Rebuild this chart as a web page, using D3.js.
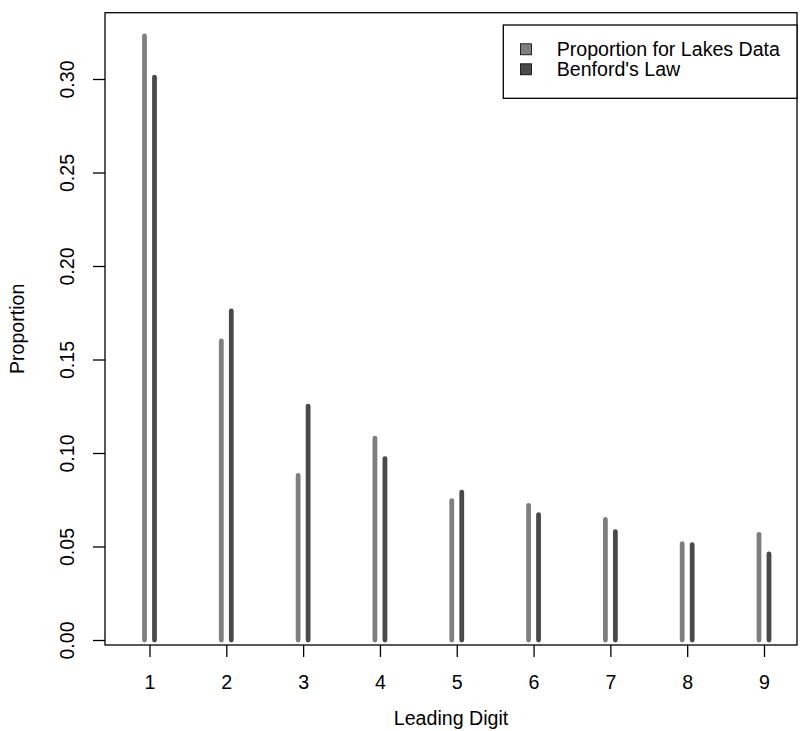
<!DOCTYPE html>
<html>
<head>
<meta charset="utf-8">
<script src="https://cdn.jsdelivr.net/npm/d3@7"></script>
<style>
  body { margin: 0; background: #fff; }
  text { font-family: "Liberation Sans", Arial, Helvetica, sans-serif; fill: #000; }
</style>
</head>
<body>
<div id="chart"></div>
<script>
// leading digits and proportions
const digits = [1, 2, 3, 4, 5, 6, 7, 8, 9];
const lakes = [0.323, 0.160, 0.088, 0.108, 0.0745, 0.072, 0.0645, 0.0515, 0.0565];
const benford = [0.301, 0.176, 0.125, 0.097, 0.079, 0.067, 0.058, 0.051, 0.046];
const yTicks = [0, 0.05, 0.10, 0.15, 0.20, 0.25, 0.30];
const seriesNames = ['Proportion for Lakes Data', "Benford's Law"];
const seriesColors = ['#7f7f7f', '#4a4a4a'];

const W = 800, H = 731;
const box = { left: 105, top: 12.7, right: 797, bottom: 645 };
const fs = 19.6;

const svg = d3.select('#chart').append('svg')
    .attr('width', W)
    .attr('height', H);

const x = d3.scaleLinear().domain([1, 9]).range([149.5, 764]);
const y = d3.scaleLinear().domain([0, 0.30]).range([640, 79]);
const off = 0.065; // side-by-side shift of the two series

// spikes (type = "h")
const series = [lakes, benford];
series.forEach((vals, s) => {
    svg.append('g').selectAll('line')
        .data(digits)
        .enter().append('line')
        .attr('x1', (d) => x(d + (s === 0 ? -off : off)))
        .attr('x2', (d) => x(d + (s === 0 ? -off : off)))
        .attr('y1', y(0))
        .attr('y2', (d, i) => y(vals[i]))
        .attr('stroke', seriesColors[s])
        .attr('stroke-width', 4.8)
        .attr('stroke-linecap', 'round');
});

// plot box
svg.append('rect')
    .attr('x', box.left)
    .attr('y', box.top)
    .attr('width', box.right - box.left)
    .attr('height', box.bottom - box.top)
    .attr('fill', 'none')
    .attr('stroke', '#000')
    .attr('stroke-width', 1.3);

// x axis
const gx = svg.append('g')
    .attr('transform', `translate(0,${box.bottom})`)
    .call(d3.axisBottom(x).tickValues(digits).tickSize(12).tickPadding(18).tickFormat(d3.format('d')));
gx.select('.domain').remove();
gx.selectAll('line').attr('stroke', '#000').attr('stroke-width', 1.3);
gx.selectAll('text').style('font-size', fs + 'px').attr('font-family', null);

// y axis, labels turned parallel to the axis
const gy = svg.append('g')
    .attr('transform', `translate(${box.left},0)`)
    .call(d3.axisLeft(y).tickValues(yTicks).tickSize(12).tickFormat(d3.format('.2f')));
gy.select('.domain').remove();
gy.selectAll('line').attr('stroke', '#000').attr('stroke-width', 1.3);
gy.selectAll('text')
    .attr('x', null)
    .attr('dy', null)
    .attr('text-anchor', 'middle')
    .attr('transform', 'translate(-31,0) rotate(-90)')
    .style('font-size', fs + 'px');

// axis titles
svg.append('text')
    .attr('x', (box.left + box.right) / 2)
    .attr('y', 725)
    .attr('text-anchor', 'middle')
    .style('font-size', fs + 'px')
    .text('Leading Digit');

svg.append('text')
    .attr('transform', `translate(24,${(box.top + box.bottom) / 2}) rotate(-90)`)
    .attr('text-anchor', 'middle')
    .style('font-size', fs + 'px')
    .text('Proportion');

// legend, right edge on the plot border
const lg = svg.append('g');
lg.append('rect')
    .attr('x', 503.3)
    .attr('y', 25)
    .attr('width', box.right - 503.3)
    .attr('height', 98.3 - 25)
    .attr('fill', '#fff')
    .attr('stroke', '#000')
    .attr('stroke-width', 1.3);

const items = lg.selectAll('g.item')
    .data(seriesNames)
    .enter().append('g')
    .attr('class', 'item')
    .attr('transform', (d, i) => `translate(0,${49.3 + i * 20})`);

items.append('rect')
    .attr('x', 520.5)
    .attr('y', -5.5)
    .attr('width', 11)
    .attr('height', 11)
    .attr('fill', (d, i) => seriesColors[i])
    .attr('stroke', '#000')
    .attr('stroke-width', 0.8);

items.append('text')
    .attr('x', 556.7)
    .attr('dy', '0.36em')
    .style('font-size', fs + 'px')
    .text((d) => d);
</script>
</body>
</html>
